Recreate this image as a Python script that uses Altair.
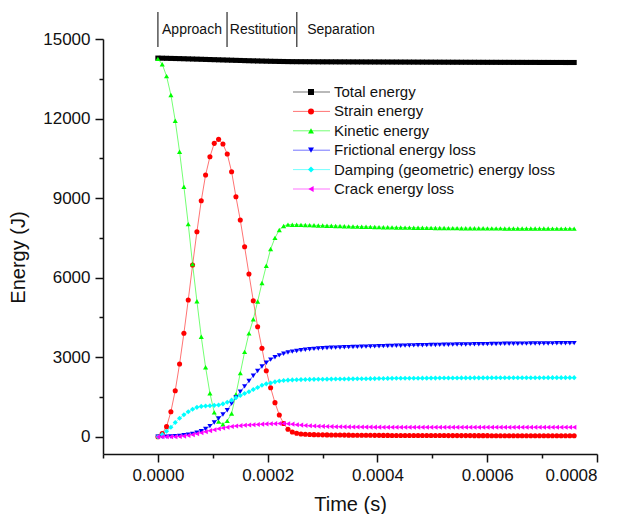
import altair as alt
import pandas as pd

# ---- data ----
time_us = [
    0.0, 7.9, 15.8, 23.7, 31.6, 39.5, 47.4, 55.3, 63.2, 71.1,
    79.0, 86.9, 94.8, 102.7, 110.6, 118.5, 126.4, 134.3, 142.2, 150.1,
    158.0, 165.9, 173.8, 181.7, 189.6, 197.5, 205.4, 213.3, 221.2, 229.1,
    237.0, 244.9, 252.8, 260.7, 268.6, 276.5, 284.4, 292.3, 300.2, 308.1,
    316.0, 323.9, 331.8, 339.7, 347.6, 355.5, 363.4, 371.3, 379.2, 387.1,
    395.0, 402.9, 410.8, 418.7, 426.6, 434.5, 442.4, 450.3, 458.2, 466.1,
    474.0, 481.9, 489.8, 497.7, 505.6, 513.5, 521.4, 529.3, 537.2, 545.1,
    553.0, 560.9, 568.8, 576.7, 584.6, 592.5, 600.4, 608.3, 616.2, 624.1,
    632.0, 639.9, 647.8, 655.7, 663.6, 671.5, 679.4, 687.3, 695.2, 703.1,
    711.0, 718.9, 726.8, 734.7, 742.6, 750.5, 758.4,
]

total_energy = [
    14280, 14276, 14272, 14268, 14264, 14260, 14255, 14250, 14245, 14240,
    14235, 14230, 14225, 14220, 14215, 14210, 14205, 14200, 14195, 14190,
    14185, 14180, 14176, 14172, 14168, 14164, 14160, 14157, 14154, 14151,
    14148, 14146, 14145, 14144, 14143, 14142, 14141, 14140, 14139, 14139,
    14138, 14138, 14137, 14137, 14136, 14136, 14135, 14135, 14134, 14134,
    14133, 14133, 14132, 14132, 14131, 14131, 14130, 14130, 14129, 14129,
    14128, 14128, 14127, 14127, 14126, 14126, 14125, 14125, 14124, 14124,
    14123, 14123, 14122, 14122, 14121, 14121, 14120, 14120, 14120, 14119,
    14119, 14119, 14118, 14118, 14118, 14117, 14117, 14117, 14116, 14116,
    14116, 14115, 14115, 14115, 14114, 14114, 14114,
]

strain_energy = [
    0, 120, 381, 946, 1738, 2745, 3902, 5157, 6477, 7732,
    8901, 9870, 10560, 11065, 11216, 11039, 10662, 9994, 9052, 8173,
    7167, 6137, 5131, 4151, 3336, 2492, 1850, 1286, 822, 500,
    283, 180, 130, 105, 92, 85, 80, 76, 73, 70,
    68, 66, 64, 62, 60, 59, 58, 57, 56, 55,
    54, 53, 52, 51, 50, 50, 49, 49, 48, 48,
    47, 47, 46, 46, 45, 45, 45, 44, 44, 44,
    43, 43, 43, 42, 42, 42, 42, 41, 41, 41,
    41, 40, 40, 40, 40, 40, 39, 39, 39, 39,
    39, 38, 38, 38, 38, 38, 38,
]

kinetic_energy = [
    14250, 14050, 13600, 12890, 11920, 10750, 9430, 8020, 6510, 5110,
    3770, 2620, 1640, 920, 570, 470, 600, 880, 1600, 2400,
    3200, 3900, 4430, 5100, 5800, 6450, 7080, 7500, 7800, 7950,
    8000, 7998, 7994, 7990, 7985, 7980, 7975, 7970, 7965, 7960,
    7955, 7950, 7945, 7940, 7935, 7930, 7926, 7922, 7918, 7914,
    7910, 7906, 7903, 7900, 7897, 7894, 7891, 7888, 7886, 7884,
    7882, 7880, 7878, 7876, 7874, 7872, 7870, 7869, 7868, 7867,
    7866, 7865, 7864, 7863, 7862, 7861, 7860, 7859, 7858, 7857,
    7856, 7855, 7855, 7854, 7854, 7853, 7853, 7852, 7852, 7851,
    7851, 7850, 7850, 7850, 7849, 7849, 7848,
]

frictional_loss = [
    0, 0, 5, 10, 20, 35, 55, 80, 110, 150,
    210, 290, 400, 540, 690, 840, 1000, 1250, 1480, 1700,
    1900, 2100, 2300, 2480, 2650, 2790, 2910, 3000, 3070, 3130,
    3180, 3210, 3235, 3260, 3280, 3300, 3315, 3328, 3340, 3348,
    3355, 3361, 3367, 3373, 3379, 3385, 3390, 3395, 3400, 3405,
    3410, 3414, 3418, 3422, 3426, 3430, 3434, 3438, 3442, 3446,
    3450, 3453, 3456, 3459, 3462, 3465, 3468, 3471, 3474, 3477,
    3480, 3482, 3485, 3487, 3490, 3492, 3495, 3497, 3500, 3502,
    3505, 3506, 3508, 3509, 3511, 3512, 3514, 3515, 3517, 3518,
    3520, 3522, 3524, 3526, 3527, 3529, 3530,
]

damping_loss = [
    0, 90, 210, 360, 540, 700, 830, 946, 1040, 1110,
    1145, 1160, 1170, 1185, 1199, 1240, 1300, 1380, 1470, 1560,
    1630, 1700, 1780, 1860, 1940, 1995, 2030, 2070, 2104, 2120,
    2135, 2145, 2150, 2155, 2160, 2163, 2166, 2168, 2170, 2172,
    2174, 2176, 2178, 2180, 2182, 2184, 2186, 2188, 2190, 2192,
    2194, 2196, 2198, 2200, 2202, 2204, 2205, 2206, 2207, 2208,
    2209, 2210, 2211, 2212, 2213, 2214, 2215, 2216, 2217, 2218,
    2219, 2220, 2220, 2221, 2221, 2222, 2222, 2223, 2223, 2224,
    2224, 2225, 2225, 2226, 2226, 2227, 2227, 2228, 2228, 2228,
    2229, 2229, 2229, 2230, 2230, 2230, 2230,
]

crack_loss = [
    0, 0, 0, 0, 5, 10, 25, 50, 80, 115,
    150, 190, 230, 265, 300, 330, 360, 385, 405, 420,
    435, 445, 455, 465, 475, 485, 490, 495, 500, 500,
    490, 475, 455, 440, 425, 415, 405, 398, 392, 387,
    383, 380, 377, 374, 372, 370, 368, 366, 365, 364,
    363, 362, 361, 360, 360, 360, 360, 360, 360, 360,
    359, 359, 359, 359, 359, 359, 359, 359, 359, 359,
    359, 359, 358, 358, 358, 358, 358, 358, 358, 358,
    358, 358, 358, 358, 358, 358, 358, 358, 358, 358,
    358, 358, 358, 358, 358, 358, 358,
]

series_names = [
    "Total energy",
    "Strain energy",
    "Kinetic energy",
    "Frictional energy loss",
    "Damping (geometric) energy loss",
    "Crack energy loss",
]
series_values = [total_energy, strain_energy, kinetic_energy,
                 frictional_loss, damping_loss, crack_loss]
series_colors = ["#000000", "#ff0000", "#00ff00", "#0000ff", "#00ffff", "#ff00ff"]
series_shapes = ["square", "circle", "triangle-up", "triangle-down", "diamond", "triangle-left"]

phase_labels = ["Approach", "Restitution", "Separation"]
phase_bounds_s = [0.0, 0.000126, 0.000253]
phase_label_s = [0.0000075, 0.000131, 0.000272]

x_ticks = [-0.0001, 0.0, 0.0001, 0.0002, 0.0003, 0.0004, 0.0005, 0.0006, 0.0007, 0.0008]
y_ticks = [0, 1500, 3000, 4500, 6000, 7500, 9000, 10500, 12000, 13500, 15000]

FONT = "Liberation Sans"

# ---- tables ----
rows = []
for name, vals in zip(series_names, series_values):
    for t, v in zip(time_us, vals):
        rows.append({"series": name, "time": t * 1e-6, "energy": v})
df = pd.DataFrame(rows)

phase_df = pd.DataFrame({"time": phase_bounds_s})
phase_text_df = pd.DataFrame({"time": phase_label_s, "label": phase_labels})
legend_df = pd.DataFrame({"series": series_names, "row": list(range(len(series_names)))})

color = alt.Color("series:N", scale=alt.Scale(domain=series_names, range=series_colors), legend=None)
shape = alt.Shape("series:N", scale=alt.Scale(domain=series_names, range=series_shapes), legend=None)

x_enc = alt.X(
    "time:Q",
    scale=alt.Scale(domain=[-0.0001, 0.0008], nice=False, zero=False),
    axis=alt.Axis(
        values=x_ticks,
        format=".4f",
        labelExpr="round(datum.value*10000) % 2 === 0 ? datum.label : ''",
        tickSize={"condition": {"test": "round(datum.value*10000) % 2 === 0", "value": 8}, "value": 4},
        labelPadding=5,
        titlePadding=11,
    ),
    title="Time (s)",
)
y_enc = alt.Y(
    "energy:Q",
    scale=alt.Scale(domain=[-650, 15000], nice=False, zero=False),
    axis=alt.Axis(
        values=y_ticks,
        format="d",
        labelExpr="datum.value % 3000 === 0 ? datum.label : ''",
        tickSize={"condition": {"test": "datum.value % 3000 === 0", "value": 8}, "value": 4},
        labelPadding=5,
        titlePadding=14,
        titleY=218,
    ),
    title="Energy (J)",
)

lines = alt.Chart(df).mark_line(strokeWidth=1, opacity=0.55).encode(
    x=x_enc, y=y_enc, color=color
)
points = alt.Chart(df).mark_point(filled=True, size=26, opacity=1, strokeWidth=0).encode(
    x=x_enc, y=y_enc, color=color, shape=shape
)
phase_rules = alt.Chart(phase_df).mark_rule(color="#555555", strokeWidth=1.5, clip=False).encode(
    x="time:Q", y=alt.value(-27), y2=alt.value(8)
)
phase_text = alt.Chart(phase_text_df).mark_text(
    align="left", baseline="middle", fontSize=14, font=FONT, color="#111111", clip=False
).encode(x="time:Q", y=alt.value(-9), text="label:N")

main = alt.layer(lines, points, phase_rules, phase_text)

ly = alt.Y("row:O", scale=alt.Scale(type="point", range=[53, 150], padding=0), axis=None)
leg_lines = alt.Chart(legend_df).mark_rule(strokeWidth=1, opacity=0.55).encode(
    x=alt.value(190), x2=alt.value(227), y=ly, color=color
)
leg_points = alt.Chart(legend_df).mark_point(filled=True, size=36, opacity=1, strokeWidth=0).encode(
    x=alt.value(208), y=ly, color=color, shape=shape
)
leg_text = alt.Chart(legend_df).mark_text(
    align="left", baseline="middle", fontSize=15, font=FONT, color="#111111"
).encode(x=alt.value(231), y=ly, text="series:N")
legend = alt.layer(leg_lines, leg_points, leg_text)

chart = (
    alt.layer(main, legend)
    .resolve_scale(y="independent")
    .properties(
        width=494,
        height=415,
        autosize=alt.AutoSizeParams(type="none"),
        padding={"left": 95, "top": 31, "right": 30, "bottom": 60},
        background="white",
    )
    .configure_view(stroke=None)
    .configure_axis(
        grid=False,
        labelFont=FONT,
        labelFontSize=17,
        labelColor="#111111",
        titleFont=FONT,
        titleFontSize=20,
        titleFontWeight="normal",
        titleColor="#111111",
        domainColor="#111111",
        domainWidth=1.5,
        tickColor="#111111",
        tickWidth=1.5,
    )
)

chart.save("out.html", embed_options={"renderer": "svg", "actions": False})
